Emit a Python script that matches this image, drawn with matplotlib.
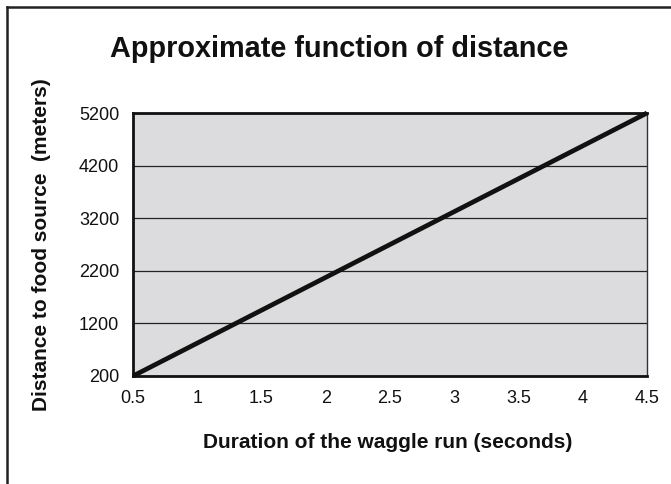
import matplotlib
matplotlib.use("Agg")
import matplotlib.pyplot as plt
from matplotlib.lines import Line2D

# data
duration = [0.5, 4.5]
distance = [200, 5200]
x_ticks = [0.5, 1, 1.5, 2, 2.5, 3, 3.5, 4, 4.5]
y_ticks = [200, 1200, 2200, 3200, 4200, 5200]

plt.rcParams["font.family"] = ["Liberation Sans", "DejaVu Sans"]

fig = plt.figure(figsize=(6.71, 4.84), dpi=100)
ax = fig.add_axes([133 / 671, 1 - 376 / 484, (647 - 133) / 671, (376 - 113) / 484])
ax.set_facecolor("#dcdcde")

ax.plot(duration, distance, color="#111111", lw=3.4, solid_capstyle="butt", clip_on=False, zorder=3)

ax.set_xlim(0.5, 4.5)
ax.set_ylim(200, 5200)
ax.set_xticks(x_ticks)
ax.set_xticklabels([str(t) for t in x_ticks])
ax.set_yticks(y_ticks)
ax.tick_params(length=0, labelsize=13, colors="#111111")
ax.tick_params(axis="x", pad=10)
ax.tick_params(axis="y", pad=10)
ax.yaxis.grid(True, color="#222222", lw=0.9)
ax.set_axisbelow(True)

for side in ["left", "bottom", "top"]:
    ax.spines[side].set_linewidth(2)
    ax.spines[side].set_color("#111111")
ax.spines["right"].set_linewidth(1)
ax.spines["right"].set_color("#333333")

fig.text(339 / 671, 1 - 57 / 484, "Approximate function of distance", ha="center", va="baseline",
         fontsize=20.8, fontweight="bold", color="#111111")
fig.text(388 / 671, 1 - 448 / 484, "Duration of the waggle run (seconds)", ha="center", va="baseline",
         fontsize=15, fontweight="bold", color="#111111")
fig.text(42 / 671, 1 - 245 / 484, "Distance to food source  (meters)", ha="center", va="center",
         rotation=90, fontsize=15, fontweight="bold", color="#111111")

# frame around the figure (left and top edges visible)
fig.add_artist(Line2D([7 / 671, 7 / 671], [0, 1 - 7 / 484], color="#222222", lw=1.8))
fig.add_artist(Line2D([7 / 671, 1], [1 - 7 / 484, 1 - 7 / 484], color="#222222", lw=1.8))

fig.savefig("out.png", dpi=100)
